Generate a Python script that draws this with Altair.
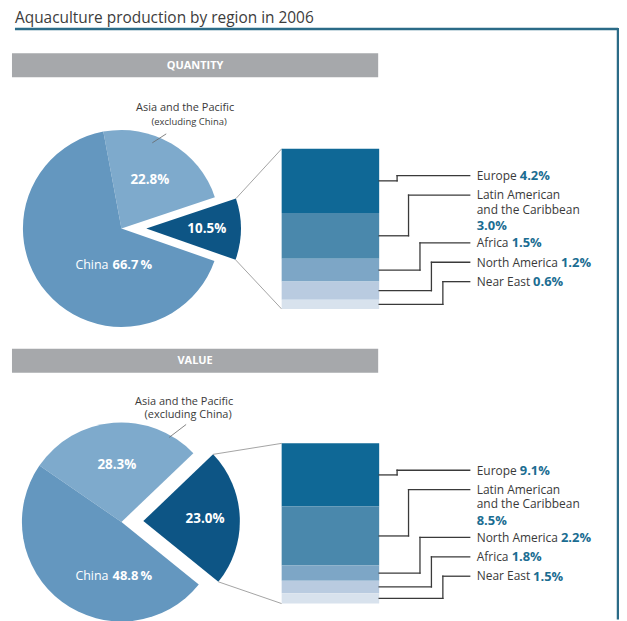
import math
import altair as alt
import pandas as pd

# ---------------- data ----------------
chart_title = "Aquaculture production by region in 2006"
panel_names = ["QUANTITY", "VALUE"]
main_regions = ["Asia and the Pacific (excluding China)", "Other regions", "China"]
quantity_main = [22.8, 10.5, 66.7]
value_main = [28.3, 23.0, 48.8]
quantity_regions = ["Europe", "Latin American and the Caribbean", "Africa", "North America", "Near East"]
quantity_shares = [4.2, 3.0, 1.5, 1.2, 0.6]
value_regions = ["Europe", "Latin American and the Caribbean", "North America", "Africa", "Near East"]
value_shares = [9.1, 8.5, 2.2, 1.8, 1.5]

# ---------------- style / layout ----------------
FONT = "Open Sans"
W, H = 614, 613
OFF = 8
XS = alt.Scale(domain=[OFF, OFF + W])
YS = alt.Scale(domain=[OFF, OFF + H], reverse=True)
TS = alt.Scale(domain=[0, 1], range=[0, 2 * math.pi])
MAIN_COLORS = ["#7eaacc", "#0d5585", "#6497bf"]
COL_COLORS = ["#0f6896", "#4a88ac", "#7da6c6", "#b9cbe0", "#d8e2ed"]
TEAL = "#1b6d92"
DARK = "#3a3a3a"
FRAME = "#2b6b87"
HEAD = "#a6a8ab"

COL_X0, COL_X1, COL_H = 283, 381, 161
ELBOW_X0, ELBOW_STEP, LINE_END, LABEL_X = 399, 11.5, 472, 479

layouts = [
    dict(head_y=52, cx=122, cy=228, r=99, r2=95, start=-10.6, explode=25, col_top=148,
         asia_xy=(186, 107), excl_size=9.5, excl_dy=14, leader=((153, 142), (167, 133)), china_dy=37),
    dict(head_y=349, cx=122, cy=523, r=100, r2=97, start=-55.5, explode=22, col_top=444,
         asia_xy=(185, 402), excl_size=11, excl_dy=14, leader=((170, 438), (187, 425)), china_dy=54),
]

# approximate Open Sans advance widths (em)
OS_W = {' ': .26, 'A': .633, 'E': .549, 'N': .741, 'L': .499, 'a': .556, 'b': .613, 'c': .476,
        'd': .613, 'e': .561, 'f': .339, 'h': .614, 'i': .253, 'm': .93, 'n': .614, 'o': .604,
        'p': .613, 'r': .408, 's': .477, 't': .353, 'u': .614}


def text_w(s, size=12):
    return sum(OS_W.get(c, 0.56) for c in s) * size


def wrap(name):
    if len(name) > 18 and " and " in name:
        k = name.index(" and ")
        return [name[:k], name[k + 1:]]
    return [name]


def P(v):
    return alt.value(v - OFF)


dummy = pd.DataFrame({"k": [0]})
layers = []

# title + frame
layers.append(alt.Chart(dummy).mark_text(align="left", baseline="alphabetic", font=FONT, fontSize=15.5,
                                         color="#3c3c3c", text=chart_title)
              .encode(x=P(15), y=P(21.5)))
layers.append(alt.Chart(dummy).mark_rule(stroke=FRAME, strokeWidth=2.5)
              .encode(x=P(15), x2=P(621), y=P(27.5)))
layers.append(alt.Chart(dummy).mark_rule(stroke=FRAME, strokeWidth=2.5)
              .encode(x=P(621), y=P(26.5), y2=P(OFF + H)))

panels = [(quantity_main, quantity_regions, quantity_shares), (value_main, value_regions, value_shares)]

for pi, ((mains, regs, shares), lay) in enumerate(zip(panels, layouts)):
    # header bar
    hy = lay["head_y"]
    layers.append(alt.Chart(dummy).mark_rect(fill=HEAD)
                  .encode(x=P(12), x2=P(380), y=P(hy), y2=P(hy + 24)))
    layers.append(alt.Chart(dummy).mark_text(font=FONT, fontSize=11, fontWeight="bold", color="white",
                                             text=panel_names[pi], baseline="middle")
                  .encode(x=P(196), y=P(hy + 12.5)))

    # ---------- pie ----------
    cx, cy, r, r2 = lay["cx"], lay["cy"], lay["r"], lay["r2"]
    tot = sum(mains)
    a1 = lay["start"] + mains[0] / tot * 360
    a2 = lay["start"] + (mains[0] + mains[1]) / tot * 360
    mid = math.radians((a1 + a2) / 2)
    ecx = cx + lay["explode"] * math.sin(mid)
    ecy = cy - lay["explode"] * math.cos(mid)

    dfm = pd.DataFrame({"region": main_regions, "share": mains, "order": list(range(3))})
    dfm["line1"] = [s.split(" (")[0] for s in main_regions]
    dfm["line2"] = ["(" + s.split(" (")[1] if " (" in s else "" for s in main_regions]
    st = lay["start"] / 360
    pie = (alt.Chart(dfm)
           .transform_joinaggregate(total="sum(share)")
           .transform_window(cum="sum(share)", sort=[alt.SortField("order")], frame=[None, 0])
           .transform_calculate(t0=f"{st} + (datum.cum - datum.share)/datum.total",
                                t1=f"{st} + datum.cum/datum.total",
                                tm="(datum.t0 + datum.t1)/2",
                                lab="format(datum.share, '.1f') + '%'",
                                lab2="format(datum.share, '.1f') + '\u2009%'"))
    col_enc = alt.Color("region:N", scale=alt.Scale(domain=main_regions, range=MAIN_COLORS), legend=None)
    layers.append(pie.transform_filter("datum.order != 1").mark_arc(radius=r)
                  .encode(theta=alt.Theta("t0:Q", scale=TS, stack=False), theta2="t1:Q",
                          color=col_enc, x=P(cx), y=P(cy)))
    layers.append(pie.transform_filter("datum.order == 1").mark_arc(radius=r2)
                  .encode(theta=alt.Theta("t0:Q", scale=TS, stack=False), theta2="t1:Q",
                          color=col_enc, x=P(ecx), y=P(ecy)))
    # slice labels
    layers.append(pie.transform_filter("datum.order == 0")
                  .mark_text(radius=r * 0.57, font=FONT, fontSize=13.5, fontWeight="bold", color="white",
                             baseline="middle")
                  .encode(theta=alt.Theta("tm:Q", scale=TS, stack=False), text="lab:N", x=P(cx), y=P(cy)))
    layers.append(pie.transform_filter("datum.order == 1")
                  .mark_text(radius=r2 * 0.64, font=FONT, fontSize=13.5, fontWeight="bold", color="white",
                             baseline="middle")
                  .encode(theta=alt.Theta("tm:Q", scale=TS, stack=False), text="lab:N", x=P(ecx), y=P(ecy)))
    layers.append(pie.transform_filter("datum.order == 2")
                  .mark_text(align="right", font=FONT, fontSize=12.5, color="white", baseline="middle")
                  .encode(text="line1:N", x=P(cx - 13), y=P(cy + lay["china_dy"])))
    layers.append(pie.transform_filter("datum.order == 2")
                  .mark_text(align="left", font=FONT, fontSize=13, fontWeight="bold", color="white",
                             baseline="middle")
                  .encode(text="lab2:N", x=P(cx - 9), y=P(cy + lay["china_dy"])))
    # Asia label above the pie
    ax, ay = lay["asia_xy"]
    layers.append(pie.transform_filter("datum.order == 0")
                  .mark_text(font=FONT, fontSize=11, color=DARK, baseline="middle")
                  .encode(text="line1:N", x=P(ax), y=P(ay)))
    layers.append(pie.transform_filter("datum.order == 0")
                  .mark_text(font=FONT, fontSize=lay["excl_size"], color=DARK, baseline="middle")
                  .encode(text="line2:N", x=P(ax + 4), y=P(ay + lay["excl_dy"])))
    (lx1, ly1), (lx2, ly2) = lay["leader"]
    layers.append(alt.Chart(dummy).mark_rule(stroke="#666666", strokeWidth=0.8)
                  .encode(x=P(lx1), y=P(ly1), x2=P(lx2), y2=P(ly2)))

    # zoom lines from exploded slice to column
    top = lay["col_top"]
    zl = pd.DataFrame({
        "x": [ecx + r2 * math.sin(math.radians(a1)), ecx + r2 * math.sin(math.radians(a2))],
        "y": [ecy - r2 * math.cos(math.radians(a1)), ecy - r2 * math.cos(math.radians(a2))],
        "x2": [COL_X0, COL_X0],
        "y2": [top, top + COL_H],
    })
    layers.append(alt.Chart(zl).mark_rule(stroke="#8c8c8c", strokeWidth=0.8)
                  .encode(x=alt.X("x:Q", scale=XS, axis=None), y=alt.Y("y:Q", scale=YS, axis=None),
                          x2="x2:Q", y2="y2:Q"))

    # ---------- stacked column ----------
    rows = []
    yl = top + 27
    for i, (reg, sh) in enumerate(zip(regs, shares)):
        lines = wrap(reg)
        pct = f"{sh:.1f}%"
        if len(lines) > 1:
            px, py = LABEL_X, yl + 14.5 * (len(lines) - 1) + 16
            nl = len(lines) + 1
        else:
            px, py = LABEL_X + text_w(lines[0] + " "), yl
            nl = 1
        rows.append(dict(region=reg, share=sh, idx=i, name="\n".join(lines), pct=pct, ly=yl,
                         ex=ELBOW_X0 + ELBOW_STEP * i, pct_x=px, pct_y=py))
        yl += 19.5 + 14.25 * (nl - 1)
    dfc = pd.DataFrame(rows)

    col = (alt.Chart(dfc)
           .transform_stack(stack="share", groupby=[], as_=["s0", "s1"], offset="normalize",
                            sort=[alt.SortField("idx", order="ascending")])
           .transform_calculate(y0=f"{top} + {COL_H} * datum.s0",
                                y1=f"{top} + {COL_H} * datum.s1",
                                ym=f"{top} + {COL_H} * (datum.s0 + datum.s1) / 2",
                                xr=f"{COL_X1}", xe=f"{LINE_END}"))
    layers.append(col.mark_rect()
                  .encode(x=P(COL_X0), x2=P(COL_X1),
                          y=alt.Y("y0:Q", scale=YS, axis=None), y2="y1:Q",
                          color=alt.Color("idx:O", scale=alt.Scale(domain=list(range(5)), range=COL_COLORS),
                                          legend=None)))
    rule_kw = dict(stroke=DARK, strokeWidth=1.3, strokeCap="square")
    layers.append(col.mark_rule(**rule_kw)
                  .encode(x=alt.X("xr:Q", scale=XS, axis=None), x2="ex:Q",
                          y=alt.Y("ym:Q", scale=YS, axis=None)))
    layers.append(col.mark_rule(**rule_kw)
                  .encode(x=alt.X("ex:Q", scale=XS, axis=None),
                          y=alt.Y("ym:Q", scale=YS, axis=None), y2="ly:Q"))
    layers.append(col.mark_rule(**rule_kw)
                  .encode(x=alt.X("ex:Q", scale=XS, axis=None), x2="xe:Q",
                          y=alt.Y("ly:Q", scale=YS, axis=None)))
    # labels
    layers.append(alt.Chart(dfc).mark_text(align="left", baseline="alphabetic", dy=4.3, font=FONT,
                                           fontSize=12, color=DARK, lineBreak="\n", lineHeight=14.5)
                  .encode(x=P(LABEL_X), y=alt.Y("ly:Q", scale=YS, axis=None), text="name:N"))
    layers.append(alt.Chart(dfc).mark_text(align="left", baseline="alphabetic", dy=4.6, font=FONT,
                                           fontSize=13, fontWeight="bold", color=TEAL)
                  .encode(x=alt.X("pct_x:Q", scale=XS, axis=None), y=alt.Y("pct_y:Q", scale=YS, axis=None),
                          text="pct:N"))

chart = (alt.layer(*layers)
         .properties(width=W, height=H, padding=0, autosize=alt.AutoSizeParams(type="none"))
         .resolve_scale(color="independent")
         .configure_view(stroke=None))

chart.save("out.html", embed_options={"renderer": "svg", "actions": False})
